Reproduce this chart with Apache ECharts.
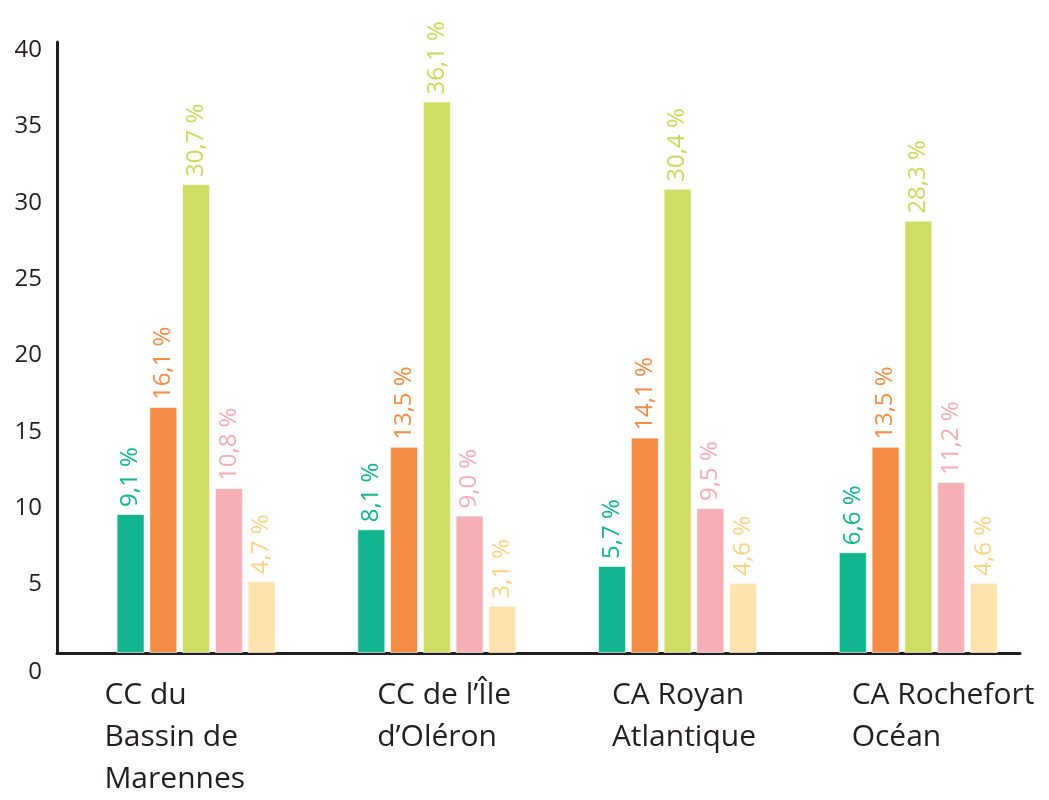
<!DOCTYPE html>
<html>
<head>
<meta charset="utf-8">
<script src="https://cdn.jsdelivr.net/npm/echarts@6/dist/echarts.min.js"></script>
<style>
  html, body { margin: 0; padding: 0; background: #fff; }
  #chart { width: 1049px; height: 800px; }
</style>
</head>
<body>
<div id="chart"></div>
<script>
// territoires
const categories = [
  'CC du\nBassin de\nMarennes',
  'CC de l\u2019\u00CEle\nd\u2019Ol\u00E9ron',
  'CA Royan\nAtlantique',
  'CA Rochefort\nOc\u00E9an'
];

// valeurs (%) par série
const serieVert = [9.1, 8.1, 5.7, 6.6];
const serieOrange = [16.1, 13.5, 14.1, 13.5];
const serieJaune = [30.7, 36.1, 30.4, 28.3];
const serieRose = [10.8, 9.0, 9.5, 11.2];
const serieBeige = [4.7, 3.1, 4.6, 4.6];

const yTicks = [0, 5, 10, 15, 20, 25, 30, 35, 40];

const couleurs = ['#13b58e', '#f58d46', '#d0dd64', '#f6b0b6', '#fde3ad'];
const couleursTexte = ['#13b58e', '#f58d46', '#c9da5c', '#f6adb4', '#fcd484'];
const series_data = [serieVert, serieOrange, serieJaune, serieRose, serieBeige];

const fonte = '"Open Sans", "DejaVu Sans", sans-serif';
const noir = '#231f20';

// décalage horizontal de chaque libellé de catégorie
const decalages = [0, 32, 26, 25];

const chart = echarts.init(document.getElementById('chart'));

const series = [
  // colonne vide pour décaler les groupes vers la droite
  {
    type: 'bar',
    name: 'vide',
    data: categories.map(() => null),
    barWidth: 32,
    barGap: '17%',
    silent: true,
    itemStyle: { color: 'transparent' }
  }
];

series_data.forEach(function (vals, i) {
  series.push({
    type: 'bar',
    name: 's' + i,
    data: vals,
    barWidth: 28,
    barGap: '17%',
    itemStyle: {
      color: couleurs[i],
      borderColor: 'rgba(255,255,255,0.6)',
      borderWidth: 1
    },
    label: {
      show: true,
      position: 'top',
      rotate: 90,
      align: 'left',
      verticalAlign: 'middle',
      distance: 7,
      color: couleursTexte[i],
      fontFamily: fonte,
      fontSize: 24,
      formatter: function (p) {
        return p.value.toFixed(1).replace('.', ',') + ' %';
      }
    }
  });
});

const richX = {};
decalages.forEach(function (d, i) {
  richX['c' + i] = {
    color: noir, fontFamily: fonte, fontSize: 30, lineHeight: 42,
    padding: [0, 0, 0, d]
  };
});

const option = {
  backgroundColor: '#fff',
  animation: false,
  grid: { left: 57, right: 29, top: 42, bottom: 137, containLabel: false },
  xAxis: {
    type: 'category',
    data: categories,
    axisLine: { show: true, lineStyle: { color: noir, width: 3 } },
    axisTick: { show: false },
    axisLabel: {
      interval: 0,
      color: noir,
      fontFamily: fonte,
      fontSize: 30,
      lineHeight: 42,
      margin: 21,
      align: 'left',
      padding: [0, 0, 0, -73],
      formatter: function (v, idx) {
        return v.split('\n').map(l => '{c' + idx + '|' + l + '}').join('\n');
      },
      rich: richX
    }
  },
  yAxis: {
    type: 'value',
    min: yTicks[0],
    max: yTicks[yTicks.length - 1],
    interval: 5,
    axisLine: { show: true, lineStyle: { color: noir, width: 3 } },
    axisTick: { show: false },
    splitLine: { show: false },
    axisLabel: {
      color: noir,
      fontFamily: fonte,
      fontSize: 24,
      margin: 15,
      verticalAlign: 'middle',
      padding: [16, 0, 0, 0],
      formatter: function (v) {
        return v === 0 ? '{z|0}' : String(v);
      },
      rich: {
        z: { color: noir, fontFamily: fonte, fontSize: 24, padding: [22, 0, 0, 0] }
      }
    }
  },
  series: series
};

chart.setOption(option);
</script>
</body>
</html>
